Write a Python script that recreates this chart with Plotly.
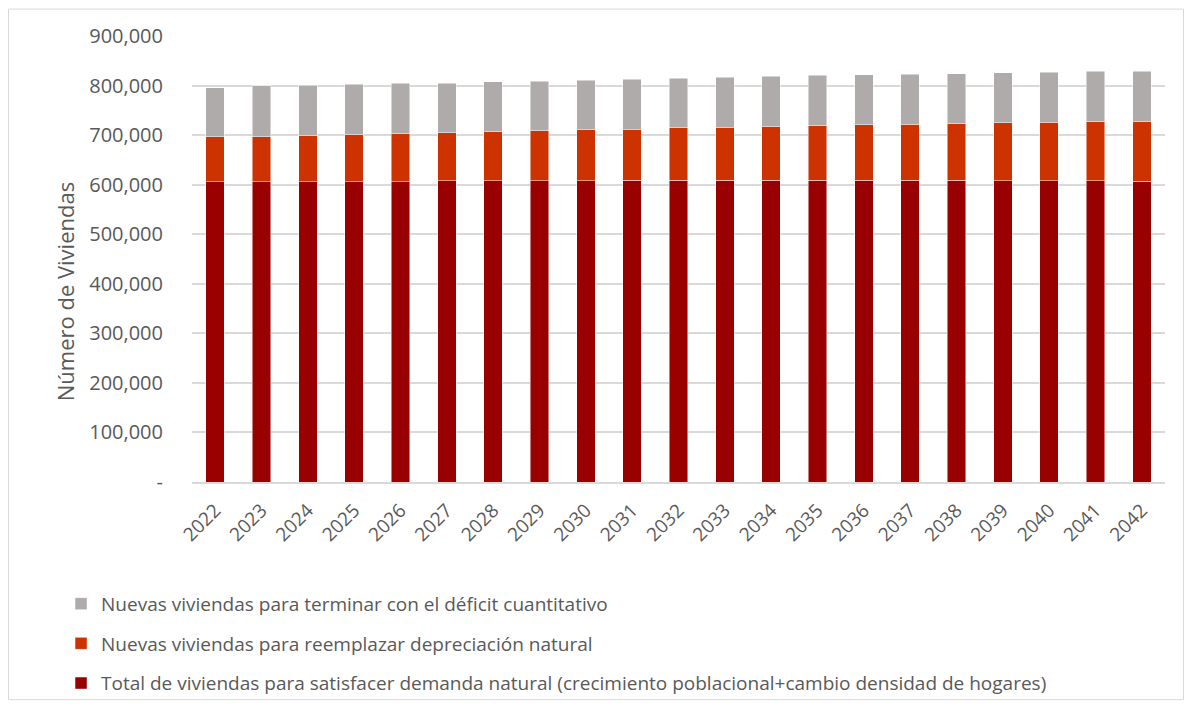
import plotly.graph_objects as go

years = [str(y) for y in range(2022, 2043)]
demanda_natural = [606000, 606000, 606000, 606000, 606000, 608000, 608000, 608000, 608000, 608500,
                   608500, 608500, 608500, 608500, 608500, 608500, 608500, 608000, 608000, 608000, 606500]
depreciacion = [90600, 91000, 92600, 95000, 96600, 96600, 98600, 100600, 102600, 103500,
                106000, 107500, 108500, 110500, 112500, 113500, 114500, 117000, 118000, 119000, 120500]
deficit = [99400, 102400, 102100, 102000, 102000, 100400, 101400, 100400, 100400, 101000,
           100500, 101000, 101600, 102000, 101000, 101000, 101000, 100700, 101000, 101500, 101500]

names = [
    "Total de viviendas para satisfacer demanda natural (crecimiento poblacional+cambio densidad de hogares)",
    "Nuevas viviendas para reemplazar depreciación natural",
    "Nuevas viviendas para terminar con el déficit cuantitativo",
]
colors = ["#990000", "#CC3300", "#AFABAB"]
ranks = [3, 2, 1]
tick_vals = [0, 100000, 200000, 300000, 400000, 500000, 600000, 700000, 800000, 900000]
tick_text = ["-", "100,000", "200,000", "300,000", "400,000", "500,000", "600,000", "700,000", "800,000", "900,000"]

fig = go.Figure()
for i, (vals, nm, col, rk) in enumerate(zip([demanda_natural, depreciacion, deficit], names, colors, ranks)):
    fig.add_trace(go.Bar(x=years, y=vals, name=nm, legendgroup=f"g{i}", legendrank=rk,
                         marker=dict(color=col, line=dict(color="rgba(255,255,255,0.6)", width=0.8))))

font = "'Open Sans', Lato, sans-serif"
fig.update_layout(
    barmode="stack",
    bargap=0.6,
    width=1176, height=707,
    margin=dict(l=184, r=19, t=28, b=223),
    paper_bgcolor="white", plot_bgcolor="white",
    font=dict(family=font, color="#595959", size=19),
    showlegend=True,
    legend=dict(traceorder="grouped", orientation="v", x=-0.1346, xanchor="left",
                y=-0.2305, yanchor="top", font=dict(size=19, color="#595959"),
                tracegroupgap=12, itemwidth=30, bgcolor="rgba(0,0,0,0)"),
    xaxis=dict(tickangle=-45, tickfont=dict(size=19, color="#595959"), showgrid=False,
               showline=True, linecolor="#D9D9D9", linewidth=1.5, ticks="", ticklabelstandoff=8),
    yaxis=dict(range=[0, 900000], tickvals=tick_vals, ticktext=tick_text,
               tickfont=dict(size=20, color="#595959"), showgrid=True, gridcolor="#D9D9D9",
               gridwidth=1.5, zeroline=False, ticks="", ticklabelstandoff=28),
    annotations=[dict(text="Número de Viviendas", textangle=-90, xref="paper", yref="paper",
                      x=-0.1305, y=0.4254, xanchor="center", yanchor="middle", showarrow=False,
                      font=dict(size=22, color="#595959"))],
    shapes=[dict(type="rect", xref="paper", yref="paper", x0=-0.1886, x1=1.019, y0=-0.488, y1=1.0603,
                 line=dict(color="#D9D9D9", width=1), fillcolor="rgba(0,0,0,0)", layer="below")],
)

fig.write_html("out.html")
